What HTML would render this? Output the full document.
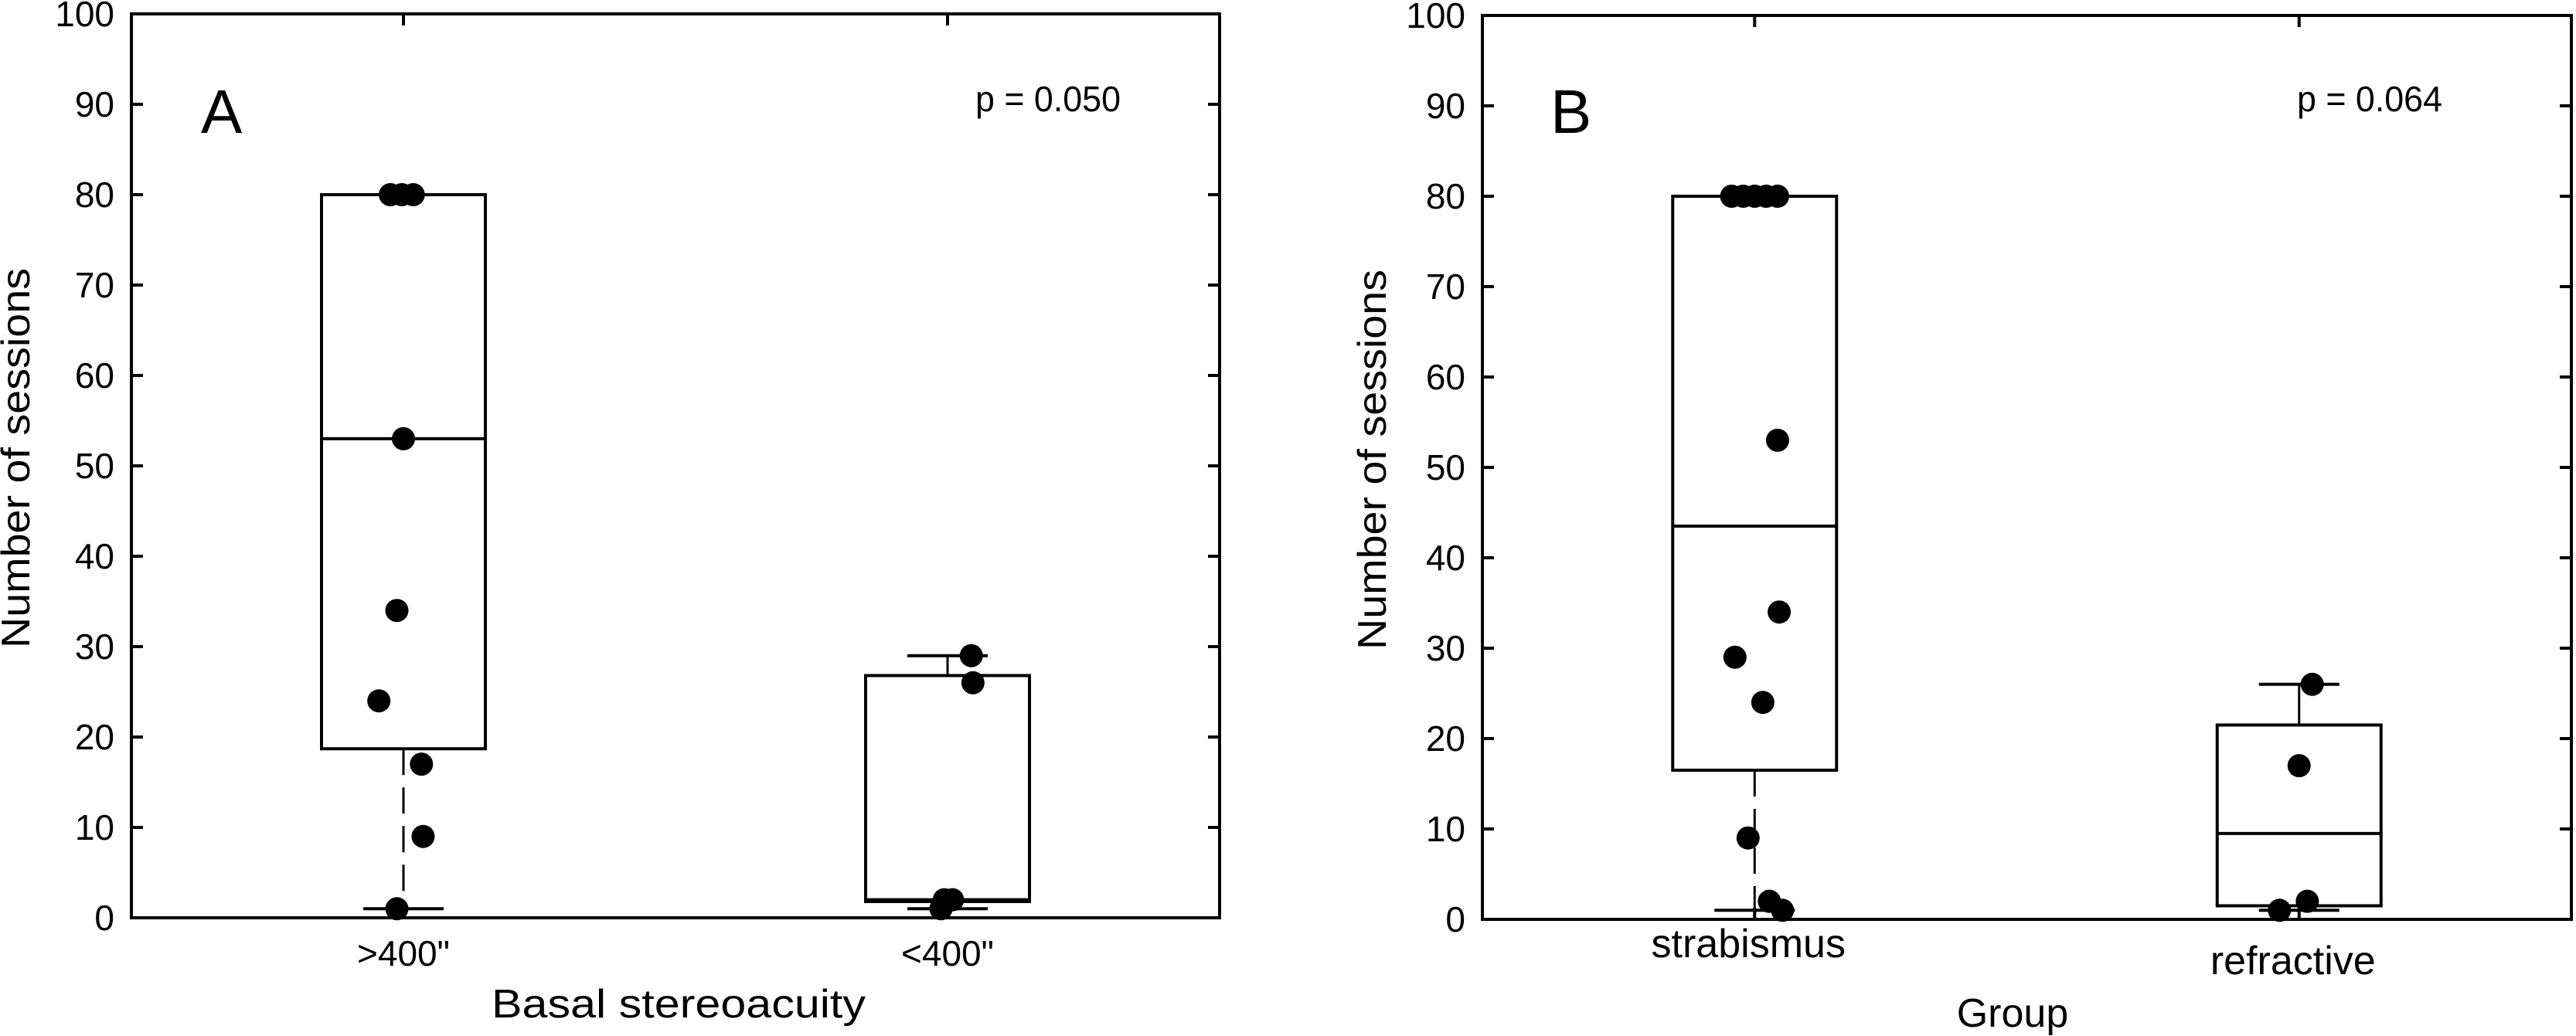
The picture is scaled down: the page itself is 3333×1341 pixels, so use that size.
<!DOCTYPE html>
<html><head><meta charset="utf-8"><style>
html,body{margin:0;padding:0;background:#fff;}
svg{display:block;}
text{fill:#000;}
.tick{font-family:"Liberation Sans Narrow","Liberation Sans",sans-serif;font-size:46px;}
.title{font-family:"Liberation Sans",sans-serif;font-size:52px;}
</style></head><body>
<svg id="chart" width="3333" height="1341" viewBox="0 0 3333 1341" xmlns="http://www.w3.org/2000/svg"></svg>
<script>
// ---- data ----
const yTicks = [0,10,20,30,40,50,60,70,80,90,100];
const catsA = [">400\"", "<400\""];
const catsB = ["strabismus", "refractive"];
// box stats per category: [lowerWhisker, q1, median, q3, upperWhisker]
const statsA1 = [1, 18.7, 53, 80, 80];
const statsA2 = [1, 1.8, 2, 26.8, 29];
const statsB1 = [1, 16.5, 43.5, 80, 80];
const statsB2 = [1, 1.5, 9.5, 21.5, 26];
// individual points (value) and horizontal jitter (fraction of box half-width)
const ptsA1 = [80, 80, 80, 53, 34, 24, 17, 9, 1];
const jitA1 = [-0.16, -0.02, 0.12, 0, -0.08, -0.30, 0.22, 0.24, -0.08];
const ptsA2 = [29, 26, 2, 2, 1];
const jitA2 = [0.29, 0.31, 0.06, -0.04, -0.08];
const ptsB1 = [80, 80, 80, 80, 80, 53, 34, 29, 24, 9, 2, 1];
const jitB1 = [-0.28, -0.14, 0, 0.14, 0.28, 0.28, 0.30, -0.24, 0.10, -0.08, 0.18, 0.34];
const ptsB2 = [26, 17, 2, 1];
const jitB2 = [0.16, 0, 0.10, -0.24];

const svg = document.getElementById('chart');
const NS = 'http://www.w3.org/2000/svg';
function mk(tag, attrs, parent){
  const e = document.createElementNS(NS, tag);
  for (const k in attrs) e.setAttribute(k, attrs[k]);
  (parent||svg).appendChild(e);
  return e;
}

function panel(cfg){
  const g = mk('g', {});
  
  
  const L = cfg.left, R = cfg.right, T = cfg.top, B = cfg.bottom;
  const y = v => B - (v/100)*(B-T);
  const x = i => L + (R-L)*(0.25 + 0.5*i);
  const hw = 106;
  const fr = mk('rect', {x:L, y:T, width:R-L, height:B-T, fill:'none', stroke:'#000', 'stroke-width':4}, g);
  
  
  yTicks.forEach(v => {
    const t1 = mk('line', {x1:L, x2:L+15, y1:y(v), y2:y(v), stroke:'#000', 'stroke-width':4}, g);
    
    
    const t2 = mk('line', {x1:R, x2:R-15, y1:y(v), y2:y(v), stroke:'#000', 'stroke-width':4}, g);
    
    
    const lb = mk('text', {x:L-22, y:y(v)+16, 'text-anchor':'end', class:'tick'}, g);
    
    
    lb.textContent = v;
  });
  cfg.cats.forEach((c, i) => {
    const t1 = mk('line', {x1:x(i), x2:x(i), y1:T, y2:T+15, stroke:'#000', 'stroke-width':4}, g);
    
    
    const t2 = mk('line', {x1:x(i), x2:x(i), y1:B, y2:B-15, stroke:'#000', 'stroke-width':4}, g);
    
    
    const lb = mk('text', {x:x(i)+cfg.labDx[i], y:cfg.labY[i], 'text-anchor':'middle', class:cfg.labClass}, g);
    
    
    lb.textContent = c;
  });
  cfg.stats.forEach((s, i) => {
    const cx = x(i);
    const bg = mk('g', {}, g);
    
    
    const wl = mk('line', {x1:cx, x2:cx, y1:y(s[1]), y2:y(s[0]), stroke:'#000', 'stroke-width':3, 'stroke-dasharray':'34,16'}, bg);
    
    
    const wu = mk('line', {x1:cx, x2:cx, y1:y(s[3]), y2:y(s[4]), stroke:'#000', 'stroke-width':3}, bg);
    
    
    const c1 = mk('line', {x1:cx-52, x2:cx+52, y1:y(s[0]), y2:y(s[0]), stroke:'#000', 'stroke-width':4}, bg);
    
    
    const c2 = mk('line', {x1:cx-52, x2:cx+52, y1:y(s[4]), y2:y(s[4]), stroke:'#000', 'stroke-width':4}, bg);
    
    
    const r = mk('rect', {x:cx-hw, y:y(s[3]), width:2*hw, height:y(s[1])-y(s[3]), fill:'none', stroke:'#000', 'stroke-width':4}, bg);
    
    
    const m = mk('line', {x1:cx-hw, x2:cx+hw, y1:y(s[2]), y2:y(s[2]), stroke:'#000', 'stroke-width':4}, bg);
    
    
  });
  cfg.pts.forEach((arr, i) => {
    arr.forEach((v, k) => {
      const p = mk('circle', {cx:x(i) + cfg.jit[i][k]*hw, cy:y(v), r:15, fill:'#000'}, g);
      
      
    });
  });
  const yt = mk('text', {x:0, y:0, 'text-anchor':'middle', class:'title', transform:`translate(${cfg.yTitleX},${(T+B)/2 - 10}) rotate(-90)`, textLength:492, lengthAdjust:'spacingAndGlyphs'}, g);
  
  
  yt.textContent = 'Number of sessions';
  const xtAttrs = {x:cfg.xTitleX, y:cfg.xTitleY, 'text-anchor':'middle', class:'title'};
  if (cfg.xTitleLen) { xtAttrs.textLength = cfg.xTitleLen; xtAttrs.lengthAdjust = 'spacingAndGlyphs'; }
  const xt = mk('text', xtAttrs, g);
  
  
  xt.textContent = cfg.xTitle;
  const pl = mk('text', {x:L+cfg.letterDx, y:172, style:'font-family:"Liberation Sans",sans-serif;font-size:80px;'}, g);
  
  
  pl.textContent = cfg.letter;
  const pv = mk('text', {x:cfg.pX, y:144, class:'tick', 'text-anchor':'start', textLength:188, lengthAdjust:'spacingAndGlyphs'}, g);
  
  
  pv.textContent = cfg.p;
}

panel({name:'panel-a', left:170, right:1578, top:18, bottom:1188, cats:catsA,
  stats:[statsA1, statsA2], pts:[ptsA1, ptsA2], jit:[jitA1, jitA2],
  labY:[1250,1250], labDx:[0,0], labClass:'tick',
  yTitleX:38, xTitle:'Basal stereoacuity', xTitleX:878, xTitleY:1317, xTitleLen:484,
  letter:'A', letterDx:90, pX:1262, p:'p = 0.050'});
panel({name:'panel-b', left:1918, right:3327, top:20, bottom:1190, cats:catsB,
  stats:[statsB1, statsB2], pts:[ptsB1, ptsB2], jit:[jitB1, jitB2],
  labY:[1239,1261], labDx:[-8,-8], labClass:'title',
  yTitleX:1793, xTitle:'Group', xTitleX:2604, xTitleY:1329, xTitleLen:0,
  letter:'B', letterDx:88, pX:2972, p:'p = 0.064'});
</script>
</body></html>
